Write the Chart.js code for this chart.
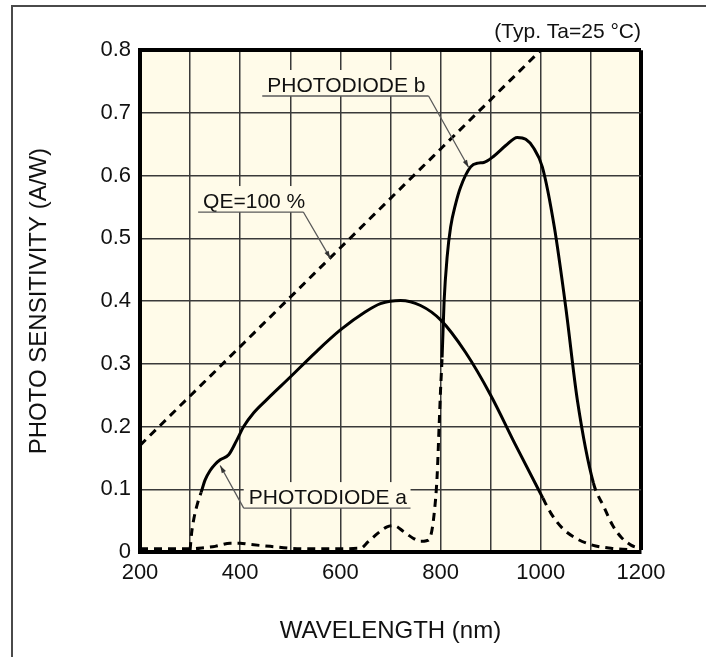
<!DOCTYPE html>
<html>
<head>
<meta charset="utf-8">
<script src="https://cdn.jsdelivr.net/npm/chart.js@4.4.1/dist/chart.umd.min.js"></script>
<style>
  html, body { margin: 0; padding: 0; background: #fff; }
  #wrap { position: relative; width: 706px; height: 657px; }
  #frame { position: absolute; left: 11px; top: 5px; right: 0; bottom: 0;
           border-top: 2px solid #4a4a4a; border-left: 2px solid #4a4a4a; pointer-events: none; }
</style>
</head>
<body>
<div id="wrap">
  <canvas id="sensChart" width="706" height="657"></canvas>
  <div id="frame"></div>
</div>
<script>
// axis labels
const xLabels = [200, 400, 600, 800, 1000, 1200];
const yLabels = [0, 0.1, 0.2, 0.3, 0.4, 0.5, 0.6, 0.7, 0.8];

// QE = 100 % reference line
const qeNm  = [200, 1000];
const qeVal = [0.17, 0.80];

// photodiode a (solid between pdaSolid, dashed outside)
const pdaNm  = [300, 303, 308, 315, 322, 330, 340, 350, 360, 377, 393, 407, 427, 453, 500, 550, 600, 650, 680, 720, 760, 800, 850, 900, 950, 1004, 1020, 1043, 1070, 1103, 1140, 1175];
const pdaVal = [0.003, 0.03, 0.055, 0.078, 0.095, 0.115, 0.13, 0.14, 0.147, 0.155, 0.178, 0.2, 0.222, 0.243, 0.279, 0.318, 0.354, 0.383, 0.396, 0.401, 0.393, 0.37, 0.318, 0.25, 0.17, 0.086, 0.062, 0.038, 0.022, 0.011, 0.006, 0.004];
const pdaSolid = [322, 1004];

// photodiode b
const pdbNm  = [200, 250, 300, 330, 350, 380, 400, 420, 460, 500, 560, 640, 655, 675, 693, 707, 727, 745, 760, 772, 780, 787, 793, 797, 800, 803, 807, 813, 820, 830, 840, 860, 875, 886, 906, 930, 953, 970, 985, 1003, 1027, 1050, 1073, 1105, 1126, 1143, 1160, 1180, 1196];
const pdbVal = [0.005, 0.005, 0.005, 0.007, 0.009, 0.014, 0.014, 0.012, 0.009, 0.006, 0.005, 0.006, 0.016, 0.03, 0.04, 0.042, 0.032, 0.022, 0.017, 0.018, 0.025, 0.06, 0.12, 0.2, 0.26, 0.31, 0.40, 0.47, 0.518, 0.555, 0.582, 0.614, 0.62, 0.621, 0.631, 0.648, 0.661, 0.658, 0.645, 0.614, 0.518, 0.389, 0.242, 0.11, 0.072, 0.043, 0.024, 0.011, 0.006];
const pdbSolid = [803, 1105];

const FONT = '"Liberation Sans", Arial, Helvetica, sans-serif';
const INK = '#111';
const CREAM = '#fffbe9';

function pts(xs, ys) {
  return xs.map((x, i) => ({x: x, y: ys[i]}));
}

// dashed outside the solid range
function dashOutside(range) {
  return ctx => (ctx.p0.parsed.x < range[0] || ctx.p1.parsed.x > range[1]) ? [8, 6] : undefined;
}

// cream plot background
const plotBg = {
  id: 'plotBg',
  beforeDraw(chart) {
    const {ctx, chartArea: a} = chart;
    ctx.save();
    ctx.fillStyle = CREAM;
    ctx.fillRect(a.left, a.top, a.right - a.left, a.bottom - a.top);
    ctx.restore();
  }
};

// labels with underline + leader line to the curve
const callouts = {
  id: 'callouts',
  afterDatasetsDraw(chart) {
    const {ctx, scales: {x, y}} = chart;
    const items = [
      {text: 'PHOTODIODE b', from: [444, 776], at: 0.727, start: 'right', tip: [856, 0.613]},
      {text: 'QE=100 %',     from: [316, 526], at: 0.542, start: 'right', tip: [580, 0.468]},
      {text: 'PHOTODIODE a', from: [407, 740], at: 0.070, start: 'left',  tip: [360, 0.138]}
    ];
    ctx.save();
    ctx.font = '21px ' + FONT;
    items.forEach(it => {
      const x0 = x.getPixelForValue(it.from[0]);
      const x1 = x.getPixelForValue(it.from[1]);
      const yl = y.getPixelForValue(it.at);
      // background hides grid lines behind label
      ctx.fillStyle = CREAM;
      ctx.fillRect(x0, yl - 26, x1 - x0, 26);
      ctx.fillStyle = INK;
      ctx.textBaseline = 'alphabetic';
      ctx.textAlign = 'left';
      ctx.fillText(it.text, x0 + 5, yl - 4);
      // underline + leader
      const sx = it.start === 'right' ? x1 : x0;
      const tx = x.getPixelForValue(it.tip[0]);
      const ty = y.getPixelForValue(it.tip[1]);
      ctx.strokeStyle = '#5a5a5a';
      ctx.lineWidth = 1.3;
      ctx.beginPath();
      ctx.moveTo(x0, yl);
      ctx.lineTo(x1, yl);
      ctx.moveTo(sx, yl);
      ctx.lineTo(tx, ty);
      ctx.stroke();
      // arrow head
      const ang = Math.atan2(ty - yl, tx - sx);
      ctx.fillStyle = '#333';
      ctx.beginPath();
      ctx.moveTo(tx, ty);
      ctx.lineTo(tx - 8 * Math.cos(ang - 0.3), ty - 8 * Math.sin(ang - 0.3));
      ctx.lineTo(tx - 8 * Math.cos(ang + 0.3), ty - 8 * Math.sin(ang + 0.3));
      ctx.closePath();
      ctx.fill();
    });
    ctx.restore();
  }
};

const lineStyle = {
  showLine: true,
  pointRadius: 0,
  borderColor: '#000',
  borderWidth: 3,
  cubicInterpolationMode: 'monotone',
  fill: false
};

new Chart(document.getElementById('sensChart'), {
  type: 'scatter',
  data: {
    datasets: [
      Object.assign({label: 'QE=100 %', data: pts(qeNm, qeVal), borderDash: [8, 6]}, lineStyle),
      Object.assign({label: 'PHOTODIODE a', data: pts(pdaNm, pdaVal), segment: {borderDash: dashOutside(pdaSolid)}}, lineStyle),
      Object.assign({label: 'PHOTODIODE b', data: pts(pdbNm, pdbVal), segment: {borderDash: dashOutside(pdbSolid)}}, lineStyle)
    ]
  },
  options: {
    responsive: false,
    devicePixelRatio: 1,
    animation: false,
    layout: {padding: {left: 0, right: 65, top: 0, bottom: 0}},
    plugins: {
      legend: {display: false},
      tooltip: {enabled: false},
      title: {
        display: true,
        text: '(Typ. Ta=25 °C)',
        align: 'end',
        color: INK,
        font: {family: FONT, size: 21, weight: 'normal'},
        padding: {top: 20, bottom: 5}
      }
    },
    scales: {
      x: {
        type: 'linear',
        min: 200,
        max: 1200,
        afterFit: s => { s.height = 105; },
        ticks: {
          stepSize: 100,
          autoSkip: false,
          maxRotation: 0,
          padding: 8,
          color: INK,
          font: {family: FONT, size: 22},
          callback: v => xLabels.includes(v) ? String(v) : ''
        },
        grid: {
          drawTicks: false,
          color: ctx => ctx.tick && ctx.tick.value === 1200 ? '#000' : '#3a3a3a',
          lineWidth: ctx => ctx.tick && ctx.tick.value === 1200 ? 4 : 1.5
        },
        border: {color: '#000', width: 4},
        title: {
          display: true,
          text: 'WAVELENGTH (nm)',
          color: INK,
          font: {family: FONT, size: 24},
          padding: {top: 0, bottom: 11}
        }
      },
      y: {
        min: 0,
        max: 0.8,
        afterFit: s => { s.width = 140; },
        afterBuildTicks: s => { s.ticks = yLabels.map(v => ({value: v})); },
        ticks: {
          padding: 9,
          color: INK,
          font: {family: FONT, size: 22},
          callback: v => v === 0 ? '0' : v.toFixed(1)
        },
        grid: {
          drawTicks: false,
          color: ctx => ctx.tick && Math.abs(ctx.tick.value - 0.8) < 1e-6 ? '#000' : '#3a3a3a',
          lineWidth: ctx => ctx.tick && Math.abs(ctx.tick.value - 0.8) < 1e-6 ? 4 : 1.5
        },
        border: {color: '#000', width: 4},
        title: {
          display: true,
          text: 'PHOTO SENSITIVITY (A/W)',
          color: INK,
          font: {family: FONT, size: 24},
          padding: {top: 25, bottom: 0}
        }
      }
    }
  },
  plugins: [plotBg, callouts]
});
</script>
</body>
</html>
